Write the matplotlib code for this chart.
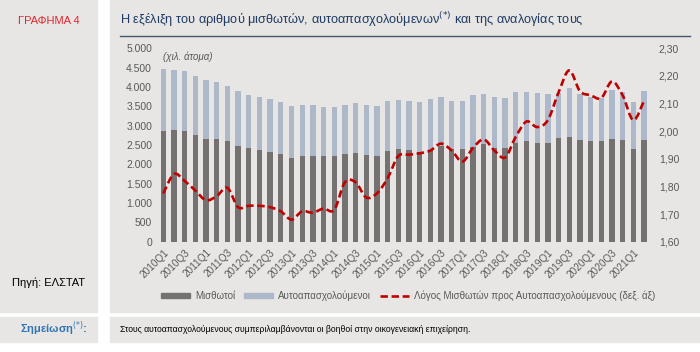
import numpy as np
import matplotlib
matplotlib.use('Agg')
import matplotlib.pyplot as plt
from matplotlib.patches import Rectangle, PathPatch, Patch
from matplotlib.path import Path
from matplotlib.lines import Line2D
from matplotlib.ticker import FuncFormatter

plt.rcParams['font.family'] = ['Liberation Sans', 'DejaVu Sans']

# ── data (thousands of persons), 2010Q1 .. 2021Q2 ──
quarters = [f'{y}Q{q}' for y in range(2010, 2022) for q in range(1, 5)][:46]

employees = [2850, 2880, 2850, 2755, 2665, 2650, 2600, 2480, 2415, 2370,
             2330, 2260, 2175, 2225, 2225, 2210, 2215, 2260, 2285, 2250,
             2225, 2345, 2390, 2380, 2320, 2380, 2470, 2400, 2390, 2450,
             2530, 2420, 2420, 2545, 2600, 2545, 2545, 2690, 2715, 2640,
             2595, 2595, 2660, 2625, 2400, 2640]

self_employed = [1610, 1570, 1570, 1520, 1525, 1485, 1430, 1405, 1375, 1360,
                 1350, 1350, 1340, 1315, 1315, 1280, 1275, 1280, 1300, 1290,
                 1290, 1290, 1280, 1260, 1280, 1320, 1275, 1250, 1260, 1340,
                 1285, 1325, 1300, 1320, 1280, 1295, 1275, 1160, 1260, 1180,
                 1155, 1115, 1260, 1235, 1220, 1265]

ratio = [1.775, 1.845, 1.82, 1.785, 1.75, 1.765, 1.795, 1.725, 1.73, 1.73,
         1.725, 1.71, 1.68, 1.71, 1.705, 1.72, 1.715, 1.815, 1.815, 1.76,
         1.775, 1.83, 1.91, 1.915, 1.92, 1.93, 1.955, 1.93, 1.89, 1.94,
         1.97, 1.93, 1.905, 1.98, 2.035, 2.015, 2.04, 2.14, 2.22, 2.145,
         2.13, 2.12, 2.18, 2.13, 2.04, 2.11]

# colours
bg = '#e7e6e4'
c_emp = '#767171'
c_self = '#adb9ca'
c_line = '#c00000'
c_text = '#595959'

W, H = 700, 352
fig = plt.figure(figsize=(7, 3.52), dpi=100)
fig.patch.set_facecolor('white')


def px_rect(x0, y0, x1, y1, color):
    # rectangle given in pixel coords from the top-left corner
    fig.patches.append(Rectangle((x0 / W, 1 - y1 / H), (x1 - x0) / W, (y1 - y0) / H,
                                 transform=fig.transFigure, color=color, zorder=-10))


px_rect(0, 0, 97, 312, bg)
px_rect(110, 0, 700, 312, bg)
px_rect(0, 317, 97, 342, bg)
px_rect(110, 317, 700, 342, bg)

# header texts
fig.text(49 / W, 1 - 21 / H, 'ΓΡΑΦΗΜΑ 4', color='#e3262e', fontsize=8, ha='center', va='center')
fig.text(120 / W, 1 - 20 / H,
         'Η εξέλιξη του αριθμού μισθωτών, αυτοαπασχολούμενων$^{(*)}$ και της αναλογίας τους',
         color='#1f3b63', fontsize=9.2, ha='left', va='center')
fig.add_artist(Line2D([120 / W, 690 / W], [1 - 36 / H, 1 - 36 / H], color='#44546a', lw=1,
                      transform=fig.transFigure))
fig.text(12 / W, 1 - 283 / H, 'Πηγή: ΕΛΣΤΑΤ', color='black', fontsize=8, ha='left', va='center')
fig.text(20 / W, 1 - 329 / H, 'Σημείωση$^{(*)}$:', color='#2e75b6', fontsize=8,
         fontweight='bold', ha='left', va='center')
fig.text(120 / W, 1 - 329 / H,
         'Στους αυτοαπασχολούμενους συμπεριλαμβάνονται οι βοηθοί στην οικογενειακή επιχείρηση.',
         color='black', fontsize=6.2, ha='left', va='center')

# ── main axes ──
ax = fig.add_axes([156.9 / W, 110.3 / H, 493.5 / W, 193.4 / H])
ax.set_facecolor('none')
x = np.arange(len(quarters))
ax.bar(x, employees, width=0.5, color=c_emp, zorder=2)
ax.bar(x, self_employed, bottom=employees, width=0.5, color=c_self, zorder=2)
ax.set_xlim(-0.6, len(quarters) - 0.4)
ax.set_ylim(0, 5000)
ax.set_yticks(np.arange(0, 5001, 500))
ax.yaxis.set_major_formatter(FuncFormatter(lambda v, p: f'{int(v):,}'.replace(',', '.')))
ax.set_xticks(x[::2])
ax.set_xticklabels(quarters[::2], rotation=45, ha='right', rotation_mode='anchor')
ax.tick_params(axis='both', length=0, colors=c_text, labelsize=7.5)
ax.tick_params(axis='x', pad=4, labelsize=7.2)
for s in ax.spines.values():
    s.set_visible(False)
ax.text(0, 4770, '(χιλ. άτομα)', fontsize=7, style='italic', color=c_text, ha='left', va='center')

# right axis — smoothed dashed ratio line
ax2 = ax.twinx()
ax2.set_ylim(1.6, 2.3)
ax2.set_yticks(np.arange(1.6, 2.301, 0.1))
ax2.yaxis.set_major_formatter(FuncFormatter(lambda v, p: f'{v:.2f}'.replace('.', ',')))
ax2.tick_params(axis='y', length=0, colors=c_text, labelsize=7.5, pad=6)
for s in ax2.spines.values():
    s.set_visible(False)

pts = np.column_stack([x, ratio]).astype(float)
verts = [pts[0]]
codes = [Path.MOVETO]
n = len(pts)
for i in range(n - 1):
    p0 = pts[max(i - 1, 0)]
    p1 = pts[i]
    p2 = pts[i + 1]
    p3 = pts[min(i + 2, n - 1)]
    verts += [p1 + (p2 - p0) / 6, p2 - (p3 - p1) / 6, p2]
    codes += [Path.CURVE4] * 3
ax2.add_patch(PathPatch(Path(verts, codes), fill=False, edgecolor=c_line, lw=1.9,
                        linestyle=(0, (2.8, 1.4)), capstyle='butt', zorder=3))

handles = [Patch(color=c_emp), Patch(color=c_self),
           Line2D([], [], color=c_line, lw=1.9, linestyle=(0, (2.8, 1.4)))]
labels = ['Μισθωτοί', 'Αυτοαπασχολούμενοι', 'Λόγος Μισθωτών προς Αυτοαπασχολούμενους (δεξ. άξ)']
fig.legend(handles, labels, loc='center', bbox_to_anchor=(408 / W, 1 - 296 / H), ncol=3,
           frameon=False, fontsize=7, labelcolor=c_text, handlelength=3.0, handleheight=0.35,
           columnspacing=0.9, handletextpad=0.5)

fig.savefig('out.png', dpi=100, facecolor=fig.get_facecolor())
